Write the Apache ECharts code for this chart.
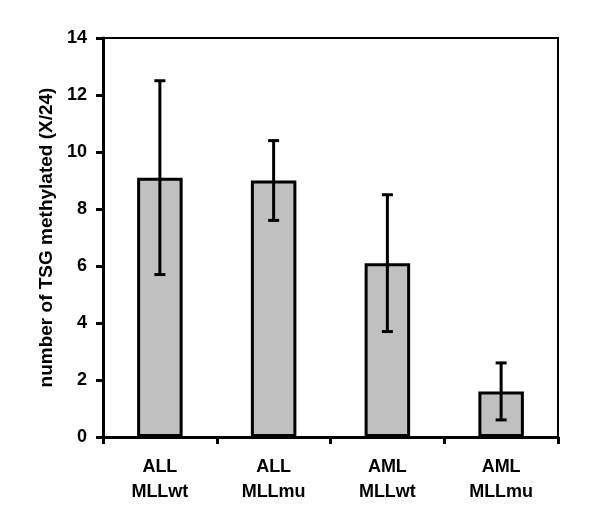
<!DOCTYPE html>
<html><head><meta charset="utf-8">
<script src="https://cdn.jsdelivr.net/npm/echarts@6/dist/echarts.min.js"></script>
<style>html,body{margin:0;padding:0;background:#fff}#c{width:600px;height:508px}</style>
</head><body><div id="c"></div>
<script>
const categories = ['ALL\nMLLwt', 'ALL\nMLLmu', 'AML\nMLLwt', 'AML\nMLLmu'];
const means = [9.1, 9.0, 6.1, 1.6];
const errHigh = [12.5, 10.4, 8.5, 2.6];
const errLow = [5.7, 7.6, 3.7, 0.6];
const yTicks = [0, 2, 4, 6, 8, 10, 12, 14];

const chart = echarts.init(document.getElementById('c'), null, {renderer: 'canvas'});
const font = 'Liberation Sans, Arial, sans-serif';
chart.setOption({
  animation: false,
  backgroundColor: '#fff',
  grid: {left: 103, right: 42, top: 38, bottom: 71, show: true, borderColor: '#000', borderWidth: 2, backgroundColor: 'transparent'},
  xAxis: {
    type: 'category', data: categories,
    axisLine: {lineStyle: {color: '#000', width: 3}},
    axisTick: {show: true, length: 7, lineStyle: {color: '#000', width: 3}},
    axisLabel: {color: '#000', fontFamily: font, fontWeight: 'bold', fontSize: 18, lineHeight: 25, margin: 18}
  },
  yAxis: {
    type: 'value', min: yTicks[0], max: yTicks[yTicks.length - 1], interval: 2,
    name: 'number of TSG methylated (X/24)', nameLocation: 'middle', nameGap: 46,
    nameTextStyle: {color: '#000', fontFamily: font, fontWeight: 'bold', fontSize: 19},
    splitLine: {show: false},
    axisLine: {show: true, lineStyle: {color: '#000', width: 3}},
    axisTick: {show: true, length: 7, lineStyle: {color: '#000', width: 3}},
    axisLabel: {color: '#000', fontFamily: font, fontWeight: 'bold', fontSize: 18, margin: 16}
  },
  series: [
    {
      type: 'bar', data: means, barWidth: '40%',
      itemStyle: {color: '#c0c0c0', borderColor: '#000', borderWidth: 3}
    },
    {
      type: 'custom', z: 10,
      data: categories.map((c, i) => [i, errLow[i], errHigh[i]]),
      renderItem: function (params, api) {
        const x = api.value(0);
        const lo = api.coord([x, api.value(1)]);
        const hi = api.coord([x, api.value(2)]);
        const hw = 5.5;
        const st = {stroke: '#000', lineWidth: 3};
        return {type: 'group', children: [
          {type: 'line', shape: {x1: lo[0], y1: lo[1], x2: hi[0], y2: hi[1]}, style: st},
          {type: 'line', shape: {x1: hi[0] - hw, y1: hi[1], x2: hi[0] + hw, y2: hi[1]}, style: st},
          {type: 'line', shape: {x1: lo[0] - hw, y1: lo[1], x2: lo[0] + hw, y2: lo[1]}, style: st}
        ]};
      }
    }
  ]
});
</script></body></html>
